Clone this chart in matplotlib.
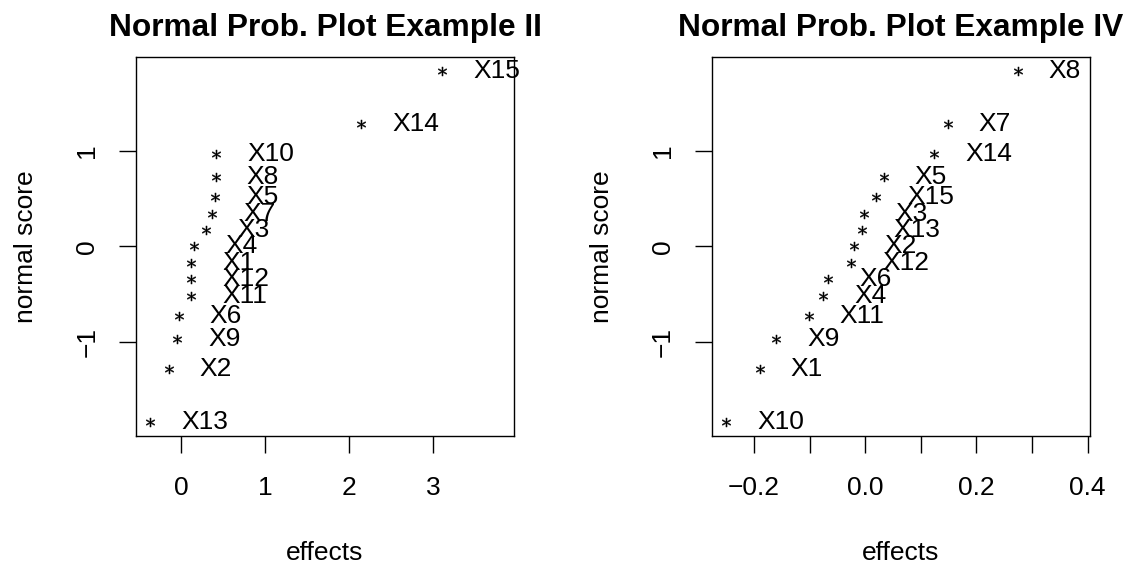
import matplotlib
matplotlib.use("Agg")
import matplotlib.pyplot as plt

plt.rcParams['font.family'] = ['Liberation Sans', 'DejaVu Sans']

# normal scores (same for both panels, 15 effects each)
normal_score = [-1.83, -1.28, -0.97, -0.73, -0.52, -0.34, -0.17, 0.0,
                0.17, 0.34, 0.52, 0.73, 0.97, 1.28, 1.83]

# Example II: effects sorted, with their names
names_ii = ["X13", "X2", "X9", "X6", "X11", "X12", "X1", "X4",
            "X3", "X7", "X5", "X8", "X10", "X14", "X15"]
effects_ii = [-0.37, -0.15, -0.05, -0.03, 0.12, 0.12, 0.12, 0.15,
              0.30, 0.37, 0.40, 0.41, 0.42, 2.14, 3.10]

# Example IV
names_iv = ["X10", "X1", "X9", "X11", "X4", "X6", "X12", "X2",
            "X13", "X3", "X15", "X5", "X14", "X7", "X8"]
effects_iv = [-0.251, -0.190, -0.160, -0.102, -0.076, -0.067, -0.026, -0.021,
              -0.006, -0.002, 0.019, 0.033, 0.124, 0.148, 0.274]

xticks_ii = [0, 1, 2, 3]
xticklabels_ii = ["0", "1", "2", "3"]
xticks_iv = [-0.2, -0.1, 0.0, 0.1, 0.2, 0.3, 0.4]
xticklabels_iv = ["\u22120.2", "", "0.0", "", "0.2", "", "0.4"]
yticks = [-1, 0, 1]
yticklabels = ["\u22121", "0", "1"]

FS = 19


def npp_panel(ax, eff, names, title, xticks, xticklabels):
    '''Draws one normal probability plot in the style of R base graphics'''
    ax.plot(eff, normal_score, ls='none', marker='$*$', ms=6.5, color='black',
            markeredgewidth=0.3)
    for x, y, n in zip(eff, normal_score, names):
        ax.annotate(n, (x, y), xytext=(22.5, 0), textcoords='offset points',
                    ha='left', va='center', fontsize=FS)
    lo = min(eff)
    hi = max(eff) + 0.2 * (max(eff) - min(eff))
    pad = 0.04 * (hi - lo)
    ax.set_xlim(lo - pad, hi + pad)
    ax.set_ylim(-1.98, 1.98)
    ax.set_xticks(xticks)
    ax.set_xticklabels(xticklabels)
    ax.set_yticks(yticks)
    ax.set_yticklabels(yticklabels)
    ax.tick_params(axis='x', length=12, width=1, labelsize=FS, pad=16.5)
    ax.tick_params(axis='y', length=12, width=1, labelsize=FS, pad=14.4,
                   labelrotation=90)
    plt.setp(ax.get_yticklabels(), va='center', ha='right')
    for s in ax.spines.values():
        s.set_linewidth(1)
    ax.set_xlabel('effects', fontsize=FS)
    ax.xaxis.label.set_va('baseline')
    ax.xaxis.set_label_coords(0.5, -0.327)
    ax.set_ylabel('normal score', fontsize=FS)
    ax.yaxis.label.set_va('baseline')
    ax.yaxis.set_label_coords(-0.272, 0.5)
    ax.set_title(title, fontsize=22.8, fontweight='bold', pad=15)


fig = plt.figure(figsize=(11.27, 5.66), dpi=100)
ax1 = fig.add_axes([0.1207, 0.2297, 0.3354, 0.6696])
ax2 = fig.add_axes([0.6315, 0.2297, 0.3357, 0.6696])

npp_panel(ax1, effects_ii, names_ii, 'Normal Prob. Plot Example II',
          xticks_ii, xticklabels_ii)
npp_panel(ax2, effects_iv, names_iv, 'Normal Prob. Plot Example IV',
          xticks_iv, xticklabels_iv)

fig.savefig('out.png', dpi=100)
